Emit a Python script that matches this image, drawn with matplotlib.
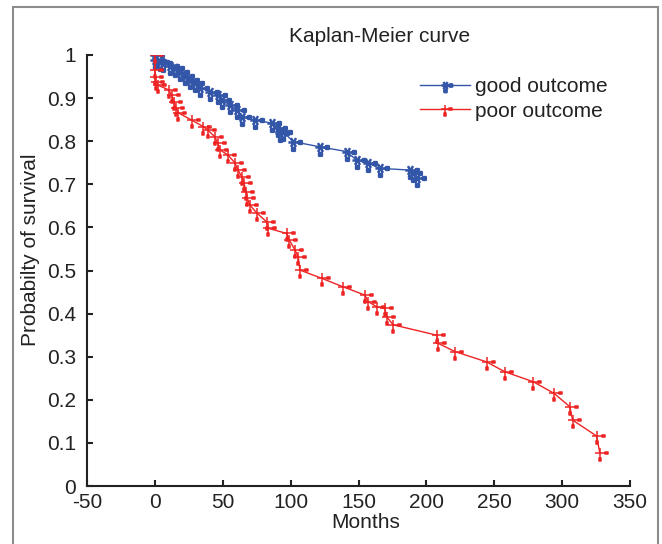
import matplotlib
matplotlib.use("Agg")
import matplotlib.pyplot as plt
import numpy as np
from matplotlib.path import Path
from matplotlib.patches import Rectangle

plt.rcParams["font.family"] = ["Liberation Sans", "DejaVu Sans"]
plt.rcParams["axes.unicode_minus"] = False

# Values (months, survival probability).
good_months = [0, 0, 3.7, 6.1, 11, 14.7, 18.4, 22.1, 25.8, 29.5, 33.1, 40.5, 46.6,
               49.1, 55.2, 60.2, 63.9, 73.7, 86, 90.8, 92.1, 94.5, 101.9, 121.5,
               141.2, 148.6, 157.1, 165.7, 188, 190.3, 192.8]
good_surv = [1.0, 0.988, 0.984, 0.981, 0.975, 0.969, 0.961, 0.952, 0.942, 0.934,
             0.924, 0.915, 0.907, 0.896, 0.884, 0.872, 0.857, 0.849, 0.842, 0.830,
             0.818, 0.822, 0.799, 0.787, 0.776, 0.756, 0.749, 0.737, 0.733, 0.726,
             0.714]

poor_months = [0, 0, 0, 0.5, 2.2, 10.3, 12.3, 14, 15.5, 17.2, 27, 35.6, 39, 44.2,
               46.2, 47.9, 53.8, 58.9, 61.1, 63.9, 65.6, 67.1, 68, 70, 74.9, 82.3,
               83.5, 97, 99, 103.1, 105.6, 106.8, 122.8, 138.7, 154.7, 157.1,
               163.3, 169.4, 170.7, 175.5, 207.5, 208.7, 221, 244.3, 257.8, 278.7,
               294, 305.7, 307.7, 325.4, 327.8]
poor_surv = [1.0, 0.965, 0.95, 0.938, 0.93, 0.919, 0.907, 0.892, 0.878, 0.866,
             0.849, 0.834, 0.826, 0.81, 0.796, 0.78, 0.768, 0.75, 0.734, 0.718,
             0.703, 0.683, 0.668, 0.652, 0.634, 0.613, 0.598, 0.586, 0.571, 0.548,
             0.532, 0.501, 0.482, 0.462, 0.443, 0.428, 0.416, 0.412, 0.393, 0.374,
             0.350, 0.331, 0.312, 0.288, 0.265, 0.242, 0.215, 0.184, 0.153, 0.116,
             0.076]

x_ticks = [-50, 0, 50, 100, 150, 200, 250, 300, 350]
y_ticks = [0, 0.1, 0.2, 0.3, 0.4, 0.5, 0.6, 0.7, 0.8, 0.9, 1]
y_ticklabels = ["0", "0.1", "0.2", "0.3", "0.4", "0.5", "0.6", "0.7", "0.8", "0.9", "1"]

BLUE = "#3456a8"
RED = "#ee2424"
INK = "#222222"


def censor_marker(arms):
    # cross / asterisk with the two little squares seen in the scanned figure
    verts, codes = [], []
    for a in np.linspace(0, np.pi, arms, endpoint=False):
        c, s = np.cos(a), np.sin(a)
        verts += [(-c, -s), (c, s)]
        codes += [Path.MOVETO, Path.LINETO]
    for cx, cy in [(1.35, 0.0), (0.0, -1.35)]:
        h = 0.28
        verts += [(cx - h, cy - h), (cx + h, cy - h), (cx + h, cy + h), (cx - h, cy + h), (cx - h, cy - h)]
        codes += [Path.MOVETO, Path.LINETO, Path.LINETO, Path.LINETO, Path.CLOSEPOLY]
    return Path(verts, codes)


fig = plt.figure(figsize=(6.62, 5.44), dpi=100)
ax = fig.add_axes([87 / 662, 1 - 486 / 544, 543 / 662, 431 / 544])

ax.plot(good_months, good_surv, color=BLUE, lw=1.0, marker=censor_marker(3),
        ms=12, mew=1.8, mfc=BLUE, mec=BLUE, label="good outcome")
ax.plot(poor_months, poor_surv, color=RED, lw=1.0, marker=censor_marker(2),
        ms=12, mew=1.1, mfc=RED, mec=RED, label="poor outcome")

ax.set_xlim(-50, 350)
ax.set_ylim(0, 1)
ax.set_xticks(x_ticks)
ax.set_yticks(y_ticks)
ax.set_yticklabels(y_ticklabels)
ax.tick_params(direction="in", length=4, width=1.5, labelsize=15, colors=INK)
ax.tick_params(axis="y", pad=8)
ax.tick_params(axis="x", pad=5)
for side in ["top", "right"]:
    ax.spines[side].set_visible(False)
for side in ["left", "bottom"]:
    ax.spines[side].set_linewidth(1.5)
    ax.spines[side].set_color(INK)

ax.set_xlabel("Months", fontsize=15, color=INK)
ax.xaxis.set_label_coords((366 - 87) / 543, (486 - 513) / 431)
ax.set_ylabel("Probabilty of survival", fontsize=15, color=INK)
ax.yaxis.set_label_coords((40 - 87) / 543, (486 - 250) / 431)
fig.text(380 / 662, 1 - 37 / 544, "Kaplan-Meier curve", fontsize=15, ha="center",
         va="center", color=INK)

ax.legend(loc="upper left", bbox_to_anchor=(410 / 662, 1 - 67 / 544),
          bbox_transform=fig.transFigure, frameon=False, fontsize=15,
          handlelength=2.4, handletextpad=0.2, labelspacing=0.25, borderpad=0,
          markerscale=0.8, labelcolor=INK)

fig.patches.append(Rectangle((13 / 662, -0.02), 645 / 662, 1.02 - 7 / 544,
                             transform=fig.transFigure, fill=False,
                             edgecolor="#8c8c8c", linewidth=1.5))

fig.savefig("out.png", dpi=100)
